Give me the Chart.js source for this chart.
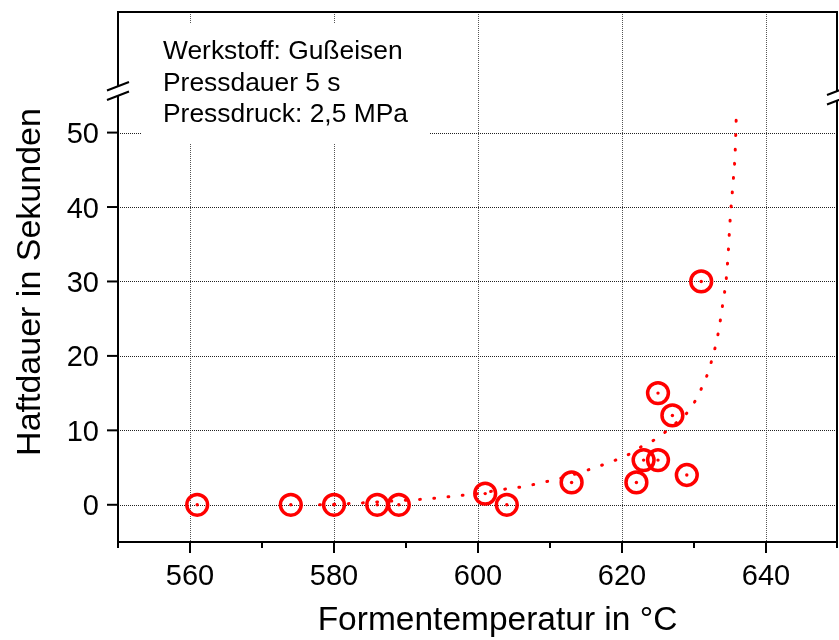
<!DOCTYPE html>
<html>
<head>
<meta charset="utf-8">
<script src="https://cdn.jsdelivr.net/npm/chart.js@4/dist/chart.umd.min.js"></script>
<style>
  html, body { margin: 0; padding: 0; background: #fff; }
  #wrap { width: 839px; height: 640px; }
</style>
</head>
<body>
<div id="wrap"><canvas id="c" width="839" height="640"></canvas></div>
<script>
// Measured adhesion times against mould temperature
const temperatures = [561, 574, 580, 586, 589, 601, 604, 613, 622, 623, 625, 625, 627, 629, 631];
const adhesionTimes = [0, 0, 0, 0, 0, 1.5, 0, 3, 3, 6, 6, 15, 12, 4, 30];

// Fitted trend curve (dotted)
const fitTemperatures = [578, 583, 588, 593, 597, 600, 603, 606, 609, 612, 615, 618, 621, 623, 625, 627, 628.9, 630.2, 631.2, 632, 632.6, 633.1, 633.5, 633.8, 634.1, 634.4, 634.7, 635.0, 635.4, 635.7, 635.9];
const fitTimes = [0, 0.2, 0.5, 0.8, 1.2, 1.5, 2.0, 2.4, 3.0, 3.7, 4.6, 5.6, 6.8, 8.0, 9.0, 10.6, 12.2, 14.0, 16.0, 17.9, 19.9, 21.8, 23.8, 25.7, 27.7, 29.6, 33, 38, 43, 47, 53];

// Axis ticks
const xTicks = [560, 580, 600, 620, 640];
const xMinorTicks = [550, 570, 590, 610, 630, 650];
const yTicks = [0, 10, 20, 30, 40, 50];

// Annotation text
const infoLines = ['Werkstoff: Gußeisen', 'Pressdauer 5 s', 'Pressdruck: 2,5 MPa'];
const xTitle = 'Formentemperatur in °C';
const yTitle = 'Haftdauer in Sekunden';

const FONT = '"Liberation Sans", Arial, sans-serif';

const toXY = (xs, ys) => xs.map((x, i) => ({ x, y: ys[i] }));

const decor = {
  id: 'decor',
  beforeDatasetsDraw(chart) {
    const { ctx, chartArea: a, scales: { x, y } } = chart;
    ctx.save();
    ctx.lineWidth = 1;
    // vertical grid
    ctx.strokeStyle = '#555';
    ctx.setLineDash([1, 1]);
    xTicks.forEach(v => {
      const px = Math.round(x.getPixelForValue(v)) + 0.5;
      ctx.beginPath(); ctx.moveTo(px, a.top); ctx.lineTo(px, a.bottom); ctx.stroke();
    });
    // horizontal grid
    ctx.strokeStyle = '#222';
    yTicks.forEach(v => {
      const py = Math.round(y.getPixelForValue(v)) + 0.5;
      ctx.beginPath(); ctx.moveTo(a.left, py); ctx.lineTo(a.right, py); ctx.stroke();
    });
    ctx.setLineDash([]);

    // info box
    ctx.fillStyle = '#fff';
    ctx.fillRect(142, 24, 288, 119);
    ctx.fillStyle = '#000';
    ctx.font = '26.4px ' + FONT;
    ctx.textAlign = 'left';
    ctx.textBaseline = 'alphabetic';
    infoLines.forEach((t, i) => ctx.fillText(t, 163, 59 + i * 31.5));
    ctx.restore();
  },
  afterDraw(chart) {
    const { ctx, chartArea: a, scales: { x, y } } = chart;
    ctx.save();
    // frame
    ctx.strokeStyle = '#000';
    ctx.lineWidth = 2;
    ctx.beginPath();
    ctx.moveTo(a.left, a.top); ctx.lineTo(a.right - 1, a.top);
    ctx.lineTo(a.right - 1, a.bottom); ctx.lineTo(a.left, a.bottom);
    ctx.closePath();
    ctx.stroke();

    // ticks
    ctx.lineWidth = 2;
    xTicks.forEach(v => {
      const px = x.getPixelForValue(v);
      ctx.beginPath(); ctx.moveTo(px, a.bottom); ctx.lineTo(px, a.bottom + 11); ctx.stroke();
    });
    xMinorTicks.forEach(v => {
      const px = Math.min(x.getPixelForValue(v), a.right - 1);
      ctx.beginPath(); ctx.moveTo(px, a.bottom); ctx.lineTo(px, a.bottom + 6); ctx.stroke();
    });
    yTicks.forEach(v => {
      const py = y.getPixelForValue(v);
      ctx.beginPath(); ctx.moveTo(a.left - 11, py); ctx.lineTo(a.left, py); ctx.stroke();
    });

    // tick labels
    ctx.fillStyle = '#000';
    ctx.font = '29px ' + FONT;
    ctx.textAlign = 'center';
    ctx.textBaseline = 'alphabetic';
    xTicks.forEach(v => ctx.fillText(String(v), x.getPixelForValue(v), a.bottom + 43));
    ctx.textAlign = 'right';
    yTicks.forEach(v => ctx.fillText(String(v), a.left - 19, y.getPixelForValue(v) + 10.5));

    // axis breaks
    const brk = (x0, x1, yTop, dy) => {
      ctx.fillStyle = '#fff';
      ctx.beginPath();
      ctx.moveTo(x0, yTop + 8.5); ctx.lineTo(x1, yTop);
      ctx.lineTo(x1, yTop + dy); ctx.lineTo(x0, yTop + 8.5 + dy);
      ctx.closePath(); ctx.fill();
      ctx.strokeStyle = '#000';
      ctx.lineWidth = 2;
      ctx.beginPath();
      ctx.moveTo(x0, yTop + 8.5); ctx.lineTo(x1, yTop);
      ctx.moveTo(x0, yTop + 8.5 + dy); ctx.lineTo(x1, yTop + dy);
      ctx.stroke();
    };
    brk(107, 129, 82, 9.5);
    brk(827, 849, 86.5, 9.5);

    // axis titles
    ctx.fillStyle = '#000';
    ctx.textAlign = 'center';
    ctx.textBaseline = 'alphabetic';
    ctx.font = '33.5px ' + FONT;
    ctx.fillText(xTitle, 497.5, 630);
    ctx.font = '34px ' + FONT;
    ctx.translate(40, 282);
    ctx.rotate(-Math.PI / 2);
    ctx.fillText(yTitle, 0, 0);
    ctx.restore();
  }
};

new Chart(document.getElementById('c'), {
  type: 'scatter',
  data: {
    datasets: [
      {
        label: 'Fit',
        data: toXY(fitTemperatures, fitTimes),
        showLine: true,
        borderColor: '#ff0000',
        borderWidth: 3,
        borderDash: [0.8, 13.5],
        borderCapStyle: 'round',
        cubicInterpolationMode: 'monotone',
        pointRadius: 0,
        fill: false
      },
      {
        label: 'Messwerte',
        data: toXY(temperatures, adhesionTimes),
        showLine: false,
        pointStyle: 'circle',
        pointRadius: 10.4,
        borderWidth: 3.5,
        borderColor: '#ff0000',
        backgroundColor: 'rgba(0,0,0,0)'
      },
      {
        label: 'Messwerte Mitte',
        data: toXY(temperatures, adhesionTimes),
        showLine: false,
        pointStyle: 'circle',
        pointRadius: 1.7,
        borderWidth: 0,
        backgroundColor: '#ff0000'
      }
    ]
  },
  options: {
    responsive: false,
    animation: false,
    events: [],
    layout: { autoPadding: false, padding: { top: 12, right: 1, left: 0, bottom: 0 } },
    plugins: { legend: { display: false }, tooltip: { enabled: false } },
    scales: {
      x: {
        type: 'linear',
        min: 550, max: 650,
        afterBuildTicks: s => { s.ticks = xTicks.map(v => ({ value: v })); },
        afterFit: s => { s.height = 98; s.paddingLeft = 0; s.paddingRight = 0; },
        grid: { display: false, drawTicks: false },
        border: { display: false },
        ticks: { display: false }
      },
      y: {
        type: 'linear',
        min: -5, max: 66.2,
        afterBuildTicks: s => { s.ticks = yTicks.map(v => ({ value: v })); },
        afterFit: s => { s.width = 118; s.paddingTop = 0; s.paddingBottom = 0; },
        grid: { display: false, drawTicks: false },
        border: { display: false },
        ticks: { display: false }
      }
    }
  },
  plugins: [decor]
});
</script>
</body>
</html>
